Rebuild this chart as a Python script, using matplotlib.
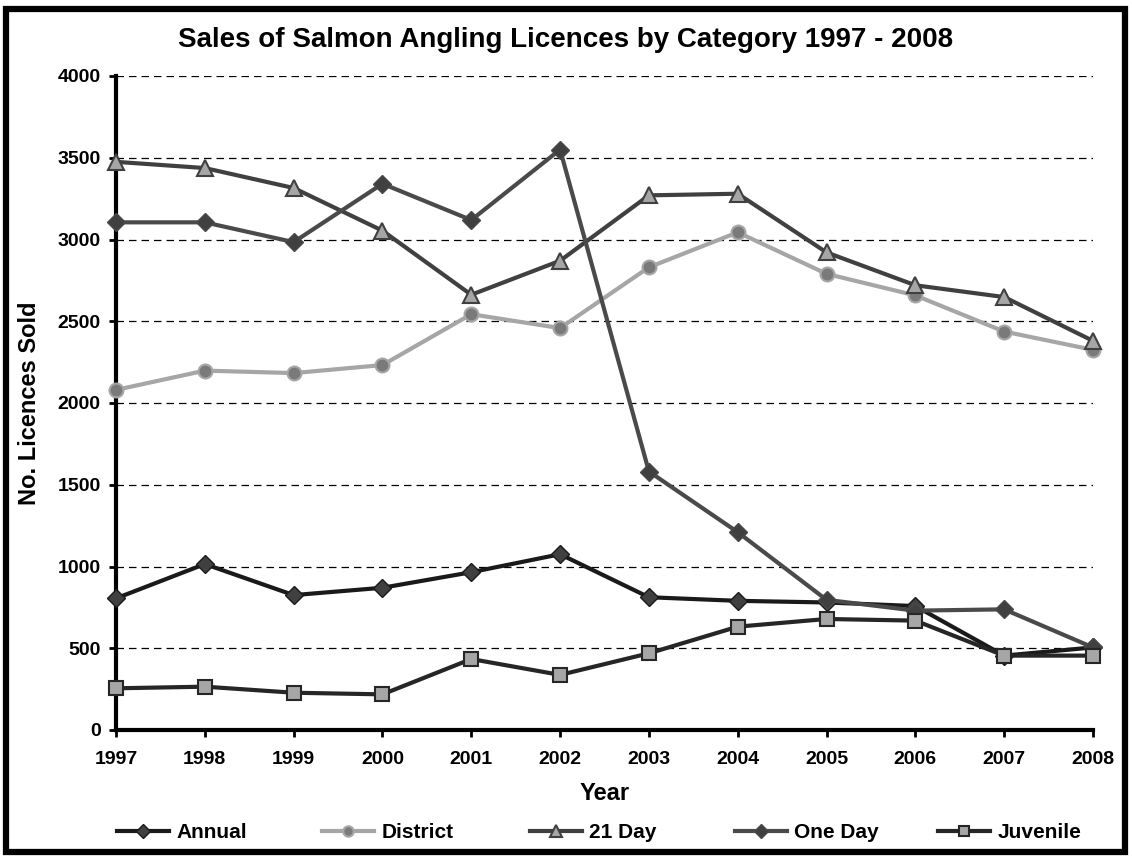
import matplotlib
matplotlib.use("Agg")
import matplotlib.pyplot as plt
from matplotlib.patches import Rectangle
from matplotlib.lines import Line2D

plt.rcParams['font.family'] = ['Liberation Sans', 'DejaVu Sans']
plt.rcParams['font.weight'] = 'bold'

years = [1997, 1998, 1999, 2000, 2001, 2002, 2003, 2004, 2005, 2006, 2007, 2008]
annual = [805, 1015, 825, 870, 965, 1075, 812, 790, 780, 758, 455, 505]
district = [2080, 2198, 2183, 2232, 2543, 2458, 2830, 3044, 2790, 2658, 2437, 2325]
day21 = [3475, 3437, 3315, 3054, 2662, 2870, 3270, 3280, 2921, 2720, 2648, 2380]
one_day = [3105, 3105, 2984, 3341, 3119, 3550, 1581, 1210, 796, 730, 738, 505]
juvenile = [255, 265, 228, 218, 434, 337, 469, 632, 679, 669, 455, 455]
yticks = [0, 500, 1000, 1500, 2000, 2500, 3000, 3500, 4000]
series_names = ['Annual', 'District', '21 Day', 'One Day', 'Juvenile']

W, H = 1132, 858
fig = plt.figure(figsize=(W / 100, H / 100), dpi=100)
ax = fig.add_axes([116 / W, 1 - 730 / H, (1093 - 116) / W, (730 - 76) / H])

for v in yticks[1:]:
    ax.axhline(v, color='black', lw=0.9, ls=(0, (6, 4)), zorder=1)

styles = [
    dict(color='#1a1a1a', marker='D', ms=9, mfc='#404040', mec='#1a1a1a', mew=1),
    dict(color='#a6a6a6', marker='o', ms=10, mfc='#7a7a7a', mec='#a6a6a6', mew=1.5),
    dict(color='#404040', marker='^', ms=12, mfc='#a6a6a6', mec='#404040', mew=1.5),
    dict(color='#4a4a4a', marker='D', ms=9, mfc='#404040', mec='#4a4a4a', mew=1),
    dict(color='#262626', marker='s', ms=10, mfc='#a6a6a6', mec='#262626', mew=1.5),
]
data = [annual, district, day21, one_day, juvenile]
zorders = [3, 3, 3, 3, 4]
for name, vals, st, z in zip(series_names, data, styles, zorders):
    ax.plot(years, vals, lw=3, label=name, clip_on=False, zorder=z, **st)

ax.set_xlim(1997, 2008)
ax.set_ylim(0, 4000)
ax.set_xticks(years)
ax.set_xticklabels([str(y) for y in years], fontsize=14, fontweight='bold')
ax.set_yticks(yticks)
ax.set_yticklabels([str(v) for v in yticks], fontsize=14, fontweight='bold')
ax.tick_params(axis='both', direction='out', length=5, width=2, color='black')
ax.tick_params(axis='y', pad=6)
ax.tick_params(axis='x', pad=10)
for s in ['top', 'right']:
    ax.spines[s].set_visible(False)
ax.spines['left'].set_linewidth(3)
ax.spines['bottom'].set_linewidth(3)

ax.set_xlabel('Year', fontsize=17, fontweight='bold', labelpad=10)
ax.set_ylabel('No. Licences Sold', fontsize=17, fontweight='bold', labelpad=12)

fig.text(0.5, 1 - 40 / H, 'Sales of Salmon Angling Licences by Category 1997 - 2008',
         ha='center', va='center', fontsize=20, fontweight='bold')

# legend entries at evenly spaced positions (Excel style)
leg_x = [117, 322, 530, 735, 938]
for name, st, x in zip(series_names, styles, leg_x):
    st2 = dict(st)
    st2['ms'] = st['ms'] * 0.75
    h = Line2D([], [], lw=3, **st2)
    lg = fig.legend([h], [name], loc='center left', bbox_to_anchor=(x / W, 1 - 833 / H),
                    frameon=False, handlelength=2.5, handletextpad=0.35,
                    borderpad=0, borderaxespad=0,
                    prop={'weight': 'bold', 'size': 15})

fig.patches.append(Rectangle((6 / W, 1 - 852 / H), (1125 - 6) / W, (852 - 9) / H,
                             transform=fig.transFigure, fill=False,
                             edgecolor='black', lw=4.5))

fig.savefig('out.png', dpi=100)
